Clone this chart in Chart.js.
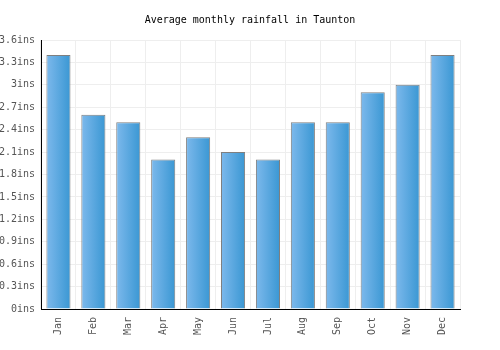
<!DOCTYPE html>
<html lang="en">
<head>
    <meta charset="UTF-8">
    <title>Average monthly rainfall in Taunton</title>
    <script src="https://cdn.jsdelivr.net/npm/chart.js"></script>
    <style>
        html, body { margin: 0; padding: 0; background: #fff; }
        #wrap { width: 500px; height: 350px; }
    </style>
</head>
<body>
    <div id="wrap"><canvas id="chart"></canvas></div>
    <script>
        // Chart data
        const months = ['Jan', 'Feb', 'Mar', 'Apr', 'May', 'Jun', 'Jul', 'Aug', 'Sep', 'Oct', 'Nov', 'Dec'];
        const rainfall = [3.4, 2.6, 2.5, 2.0, 2.3, 2.1, 2.0, 2.5, 2.5, 2.9, 3.0, 3.4];
        const yMax = 3.6;
        const yStep = 0.3;

        const mono = '"DejaVu Sans Mono", monospace';

        // paint each bar with a left-to-right gradient once the bars have their positions
        const barGradient = {
            id: 'barGradient',
            beforeDatasetsDraw(chart) {
                const c = chart.ctx;
                chart.getDatasetMeta(0).data.forEach(el => {
                    const g = c.createLinearGradient(el.x - el.width / 2, 0, el.x + el.width / 2, 0);
                    g.addColorStop(0, '#7db9ec');
                    g.addColorStop(1, '#3a97d3');
                    el.options.backgroundColor = g;
                });
            }
        };

        new Chart(document.getElementById('chart'), {
            type: 'bar',
            data: {
                labels: months,
                datasets: [{
                    data: rainfall,
                    // scriptable so every bar gets its own options object
                    backgroundColor: () => '#5aa8e2',
                    borderColor: '#7f7f7f',
                    borderWidth: 1,
                    barPercentage: 0.69,
                    categoryPercentage: 1
                }]
            },
            plugins: [barGradient],
            options: {
                responsive: true,
                maintainAspectRatio: false,
                animation: false,
                layout: { padding: { left: 0, right: 0, top: 10, bottom: 0 } },
                plugins: {
                    legend: { display: false },
                    tooltip: { enabled: false },
                    title: {
                        display: true,
                        text: 'Average monthly rainfall in Taunton',
                        color: '#000',
                        font: { family: mono, size: 10, weight: 'normal' },
                        padding: { top: 4, bottom: 14 }
                    }
                },
                scales: {
                    x: {
                        grid: { color: '#eeeeee', offset: true, drawTicks: false },
                        border: { color: '#000', width: 1 },
                        ticks: {
                            color: '#555',
                            font: { family: mono, size: 10 },
                            maxRotation: 90,
                            minRotation: 90,
                            padding: 8
                        },
                        afterFit(scale) { scale.height = 41; }
                    },
                    y: {
                        min: 0,
                        max: yMax,
                        grid: { color: '#eeeeee', drawTicks: false },
                        border: { color: '#000', width: 1 },
                        ticks: {
                            stepSize: yStep,
                            color: '#555',
                            font: { family: mono, size: 10 },
                            padding: 6,
                            callback: v => Math.round(v * 10) / 10 + 'ins'
                        },
                        afterFit(scale) { scale.width = 41; }
                    },
                    // empty right axis, only keeps the right margin without shifting the title
                    yRight: {
                        position: 'right',
                        min: 0,
                        max: yMax,
                        grid: { display: false },
                        border: { display: false },
                        ticks: { display: false },
                        afterFit(scale) { scale.width = 40; }
                    }
                }
            }
        });
    </script>
</body>
</html>
